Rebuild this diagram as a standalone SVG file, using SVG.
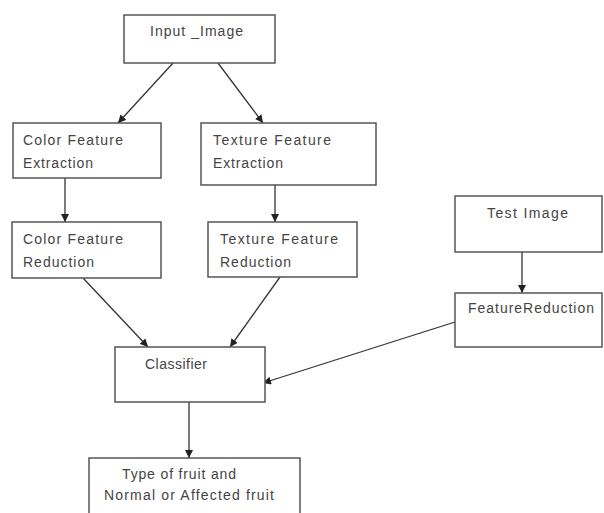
<svg xmlns="http://www.w3.org/2000/svg" width="604" height="513" viewBox="0 0 604 513">
<style>
.box{fill:#fff;stroke:#555;stroke-width:1.5}
.t{font-family:"Liberation Sans",Arial,sans-serif;font-size:14px;fill:#444}
.c{fill:none;stroke:#333;stroke-width:1.3;marker-end:url(#ah)}
</style>
<defs>
<marker id="ah" viewBox="0 0 8 8" refX="8" refY="4" markerWidth="8" markerHeight="8" markerUnits="userSpaceOnUse" orient="auto">
<path d="M0,0 L8,4 L0,8 z" fill="#222"/>
</marker>
</defs>
<rect width="604" height="513" fill="#fff"/>
<g id="connectors">
<line class="c" x1="173" y1="63" x2="118" y2="123"/>
<line class="c" x1="218" y1="63" x2="263" y2="123"/>
<line class="c" x1="65" y1="178" x2="65" y2="222"/>
<line class="c" x1="275" y1="185" x2="275" y2="222"/>
<line class="c" x1="83" y1="278" x2="148" y2="347"/>
<line class="c" x1="280" y1="277" x2="230" y2="347"/>
<line class="c" x1="522" y1="252" x2="522" y2="293"/>
<line class="c" x1="455" y1="322" x2="263" y2="383"/>
<line class="c" x1="189" y1="402" x2="189" y2="458"/>
</g>
<g id="input_image">
<rect class="box" x="124" y="15" width="151" height="48"/>
<text class="t" x="150" y="36" textLength="93" lengthAdjust="spacing">Input _Image</text>
</g>
<g id="color_feature_extraction">
<rect class="box" x="13" y="123" width="148" height="55"/>
<text class="t" x="23" y="145" textLength="100" lengthAdjust="spacing">Color  Feature</text>
<text class="t" x="23" y="168" textLength="70" lengthAdjust="spacing">Extraction</text>
</g>
<g id="texture_feature_extraction">
<rect class="box" x="201" y="123" width="175" height="62"/>
<text class="t" x="213" y="145" textLength="118" lengthAdjust="spacing">Texture  Feature</text>
<text class="t" x="213" y="168" textLength="70" lengthAdjust="spacing">Extraction</text>
</g>
<g id="color_feature_reduction">
<rect class="box" x="12" y="222" width="149" height="56"/>
<text class="t" x="23" y="244" textLength="100" lengthAdjust="spacing">Color  Feature</text>
<text class="t" x="23" y="267" textLength="71" lengthAdjust="spacing">Reduction</text>
</g>
<g id="texture_feature_reduction">
<rect class="box" x="208" y="222" width="149" height="55"/>
<text class="t" x="220" y="244" textLength="118" lengthAdjust="spacing">Texture  Feature</text>
<text class="t" x="220" y="267" textLength="71" lengthAdjust="spacing">Reduction</text>
</g>
<g id="test_image">
<rect class="box" x="455" y="196" width="147" height="56"/>
<text class="t" x="487" y="218" textLength="81" lengthAdjust="spacing">Test  Image</text>
</g>
<g id="feature_reduction">
<rect class="box" x="455" y="293" width="147" height="54"/>
<text class="t" x="468" y="313" textLength="126" lengthAdjust="spacing">FeatureReduction</text>
</g>
<g id="classifier">
<rect class="box" x="115" y="347" width="150" height="55"/>
<text class="t" x="145" y="369" textLength="62" lengthAdjust="spacing">Classifier</text>
</g>
<g id="output">
<rect class="box" x="89" y="458" width="211" height="70"/>
<text class="t" x="122" y="479" textLength="114" lengthAdjust="spacing">Type of fruit and</text>
<text class="t" x="104" y="500" textLength="170" lengthAdjust="spacing">Normal  or Affected fruit</text>
</g>
</svg>
